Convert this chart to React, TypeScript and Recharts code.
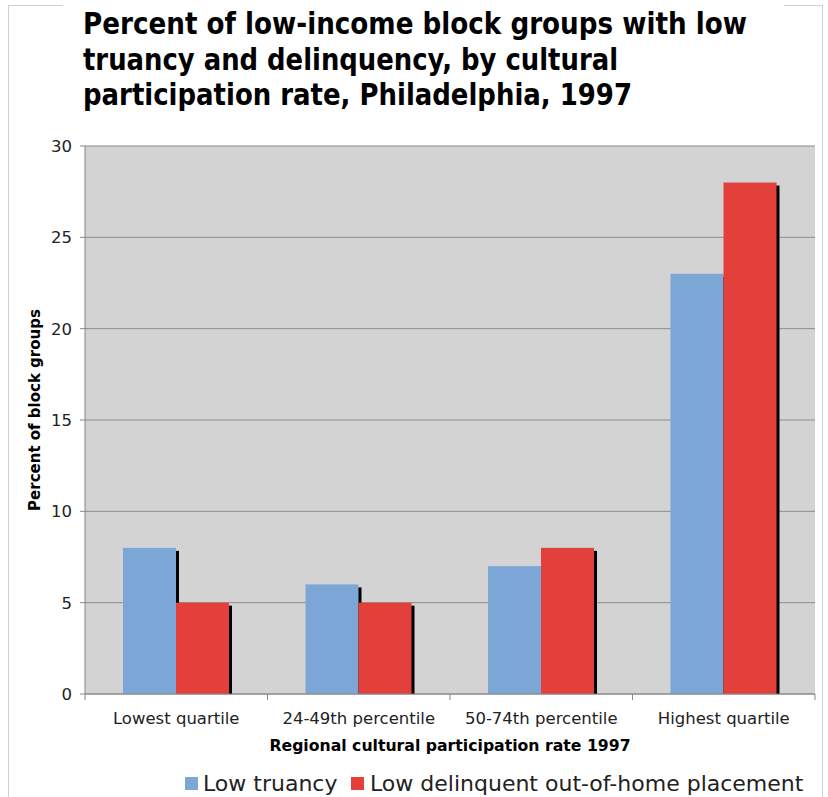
import React from 'react';
import { BarChart, Bar, XAxis, YAxis, CartesianGrid } from 'recharts';

const categories = ['Lowest quartile', '24-49th percentile', '50-74th percentile', 'Highest quartile'];
const lowTruancy = [8, 6, 7, 23];
const lowDelinquent = [5, 5, 8, 28];
const yTicks = [0, 5, 10, 15, 20, 25, 30];
const titleLines = [
  'Percent of low-income block groups with low',
  'truancy and delinquency, by cultural',
  'participation rate, Philadelphia, 1997',
];
const titleWidths = [664, 535, 549];
const seriesNames = ['Low truancy', 'Low delinquent out-of-home placement'];

const BLUE = '#7ba6d6';
const RED = '#e3403b';

const W = 828;
const H = 797;
const MARGIN = { top: 146, right: 13, bottom: 73, left: 45 };
const PLOT_W = W - MARGIN.left - MARGIN.right;
const BAND = PLOT_W / categories.length;

const data = categories.map((c, i) => ({
  category: c,
  truancy: lowTruancy[i],
  delinquent: lowDelinquent[i],
}));

const ShadowBar = (props: any) => {
  const { x, y, width, height, fill } = props;
  if (!height || height <= 0) return null;
  return (
    <g>
      <rect x={x + 3} y={y + 3} width={width} height={Math.max(0, height - 3)} fill="#000" />
      <rect x={x} y={y} width={width} height={height} fill={fill} />
    </g>
  );
};

const XTick = (props: any) => {
  const { x, y, payload, index } = props;
  const half = payload && payload.offset ? payload.offset : BAND / 2;
  const last = index === categories.length - 1;
  return (
    <g>
      <line x1={x - half} x2={x - half} y1={y} y2={y + 6} stroke="#888" />
      {last && <line x1={x + half} x2={x + half} y1={y} y2={y + 6} stroke="#888" />}
      <text
        x={x}
        y={y}
        dy={30}
        textAnchor="middle"
        fontFamily="DejaVu Sans"
        fontSize={16.5}
        fill="#222"
      >
        {payload.value}
      </text>
    </g>
  );
};

export default function App() {
  return (
    <div style={{ position: 'absolute', left: 0, top: 0, width: W, height: H, background: '#fff', overflow: 'hidden' }}>
      <div
        style={{
          position: 'absolute',
          left: 8,
          top: 5,
          width: 815,
          height: 900,
          border: '1px solid #d0d0d0',
          boxSizing: 'border-box',
        }}
      />
      <div style={{ position: 'absolute', left: 0, top: 0 }}>
        <BarChart width={W} height={H} data={data} margin={MARGIN} barGap={0} barSize={53}>
          <CartesianGrid vertical={false} stroke="#8c8c8c" fill="#d3d3d3" />
          <XAxis
            dataKey="category"
            axisLine={{ stroke: '#888' }}
            tickLine={false}
            tickSize={0}
            tickMargin={0}
            height={30}
            interval={0}
            tick={<XTick />}
          />
          <YAxis
            domain={[0, 30]}
            ticks={yTicks}
            interval={0}
            width={40}
            axisLine={{ stroke: '#888' }}
            tickLine={{ stroke: '#888' }}
            tickSize={5}
            tickMargin={8}
            tick={{ fontFamily: 'DejaVu Sans', fontSize: 16.5, fill: '#222' }}
          />
          <YAxis
            yAxisId="right"
            orientation="right"
            width={0}
            tick={false}
            tickLine={false}
            axisLine={{ stroke: '#999' }}
          />
          <Bar dataKey="truancy" fill={BLUE} shape={<ShadowBar />} isAnimationActive={false} />
          <Bar dataKey="delinquent" fill={RED} shape={<ShadowBar />} isAnimationActive={false} />
        </BarChart>
      </div>
      <div
        style={{
          position: 'absolute',
          left: 63,
          top: 0,
          width: 721,
          height: 118,
          background: '#fff',
        }}
      />
      <svg width={W} height={H} style={{ position: 'absolute', left: 0, top: 0, pointerEvents: 'none' }}>
        {titleLines.map((t, i) => (
          <text
            key={i}
            x={83}
            y={34 + i * 35.5}
            fontFamily="'DejaVu Sans Condensed', 'DejaVu Sans'"
            fontWeight="bold"
            fontSize={31}
            textLength={titleWidths[i]}
            lengthAdjust="spacingAndGlyphs"
            fill="#000"
          >
            {t}
          </text>
        ))}
        <text
          x={40}
          y={410}
          transform="rotate(-90 40 410)"
          textAnchor="middle"
          fontFamily="DejaVu Sans"
          fontWeight="bold"
          fontSize={15}
          fill="#000"
        >
          Percent of block groups
        </text>
        <text
          x={450}
          y={751}
          textAnchor="middle"
          fontFamily="DejaVu Sans"
          fontWeight="bold"
          fontSize={15.7}
          fill="#000"
        >
          Regional cultural participation rate 1997
        </text>
        <rect x={185} y={777} width={13} height={13} fill={BLUE} />
        <text x={203} y={791} fontFamily="DejaVu Sans" fontSize={22} fill="#222">
          {seriesNames[0]}
        </text>
        <rect x={351} y={777} width={13} height={13} fill={RED} />
        <text x={370} y={791} fontFamily="DejaVu Sans" fontSize={22} fill="#222">
          {seriesNames[1]}
        </text>
      </svg>
    </div>
  );
}
